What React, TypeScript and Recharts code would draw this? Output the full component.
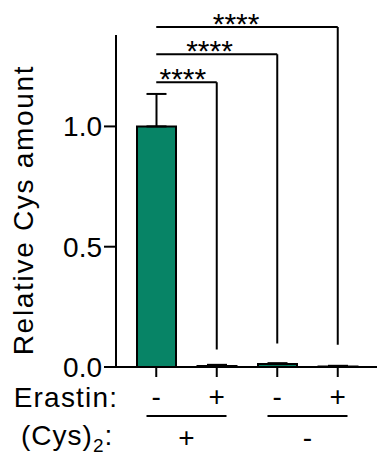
import React from 'react';
import { BarChart, Bar, XAxis, YAxis, ErrorBar, ReferenceLine } from 'recharts';

const ids = ['c1', 'c2', 'c3', 'c4'];
const erastin = ['-', '+', '-', '+'];
const cysGroups = ['+', '-'];
const values = [1.0, 0.004, 0.012, 0.002];
const errors = [0.135, 0.005, 0.004, 0.003];
const yTicks = [0, 0.5, 1.0];
const bracketTo = [1, 2, 3];
const bracketY = [1.184, 1.3, 1.413];
const bracketEnd = [0.073, 0.098, 0.093];
const sigLabels = ['****', '****', '****'];

const FONT = 'Liberation Sans, Arial, Helvetica, sans-serif';
const GREEN = '#078466';

const data = ids.map((id, i) => ({ id, value: values[i], err: [0, errors[i]] }));

const XTick = (props: any) => {
  const { x, y, payload, index } = props;
  const i = typeof index === 'number' ? index : ids.indexOf(payload.value);
  const half = payload && typeof payload.offset === 'number' && payload.offset > 0 ? payload.offset : 30.25;
  const band = half * 2;
  const els: any[] = [];
  els.push(
    <text key="e" x={x} y={y + 29} textAnchor="middle" fontSize={28} fontFamily={FONT} fill="#000">
      {erastin[i]}
    </text>
  );
  if (i % 2 === 0) {
    const mid = x + band / 2;
    els.push(<line key="u" x1={mid - 40} x2={mid + 40} y1={y + 39} y2={y + 39} stroke="#000" strokeWidth={2} />);
    els.push(
      <text key="g" x={mid} y={y + 70} textAnchor="middle" fontSize={28} fontFamily={FONT} fill="#000">
        {cysGroups[i / 2]}
      </text>
    );
  }
  if (i === 0) {
    els.push(
      <text key="l1" x={x - 38} y={y + 30} textAnchor="end" fontSize={28} letterSpacing={1.2} fontFamily={FONT} fill="#000">
        Erastin:
      </text>
    );
    els.push(
      <text key="l2" x={x - 43} y={y + 68} textAnchor="end" fontSize={28} letterSpacing={1} fontFamily={FONT} fill="#000">
        (Cys)
        <tspan fontSize={19} dy={7}>2</tspan>
        <tspan dy={-7}>:</tspan>
      </text>
    );
  }
  return <g>{els}</g>;
};

const YLabel = (props: any) => {
  const vb = props.viewBox || { x: 0, y: 35, width: 116, height: 332 };
  const cx = vb.x + 33;
  const cy = vb.y + vb.height / 2 + 9;
  return (
    <text
      x={cx}
      y={cy}
      transform={`rotate(-90, ${cx}, ${cy})`}
      textAnchor="middle"
      fontSize={28}
      letterSpacing={1.7}
      fontFamily={FONT}
      fill="#000"
    >
      Relative Cys amount
    </text>
  );
};

const StarLabel = (props: any) => {
  const vb = props.viewBox || { x: 0, y: 0, width: 0, height: 0 };
  return (
    <text
      x={vb.x + vb.width * 0.44}
      y={vb.y + 7}
      textAnchor="middle"
      fontSize={30}
      fontFamily={FONT}
      fill="#000"
    >
      {props.text}
    </text>
  );
};

export default function App() {
  return (
    <div style={{ position: 'absolute', left: 0, top: 0, width: 377, height: 459, background: '#fff' }}>
      <BarChart
        width={377}
        height={459}
        data={data}
        margin={{ top: 35, right: 0, left: 0, bottom: 0 }}
        barCategoryGap={0}
      >
        <XAxis
          dataKey="id"
          height={92}
          interval={0}
          padding={{ left: 10, right: 9 }}
          axisLine={{ stroke: '#000', strokeWidth: 2 }}
          tickLine={{ stroke: '#000', strokeWidth: 2 }}
          tickSize={10}
          tickMargin={0}
          tick={<XTick />}
        />
        <YAxis
          width={116}
          domain={[0, 1.38]}
          ticks={yTicks}
          allowDataOverflow
          tickFormatter={(v: number) => v.toFixed(1)}
          axisLine={{ stroke: '#000', strokeWidth: 2 }}
          tickLine={{ stroke: '#000', strokeWidth: 2 }}
          tickSize={12}
          tickMargin={2}
          tick={{ fontSize: 28, fill: '#000', fontFamily: FONT }}
          label={<YLabel />}
        />
        <Bar dataKey="value" fill={GREEN} stroke="#000" strokeWidth={2} barSize={39} isAnimationActive={false}>
          <ErrorBar dataKey="err" direction="y" width={10} stroke="#000" strokeWidth={2} isAnimationActive={false} />
        </Bar>
        {bracketTo.map((t, k) => (
          <ReferenceLine
            key={`h${k}`}
            segment={[
              { x: ids[0], y: bracketY[k] },
              { x: ids[t], y: bracketY[k] },
            ]}
            stroke="#000"
            strokeWidth={2}
            ifOverflow="visible"
            label={<StarLabel text={sigLabels[k]} />}
          />
        ))}
        {bracketTo.map((t, k) => (
          <ReferenceLine
            key={`v${k}`}
            segment={[
              { x: ids[t], y: bracketY[k] },
              { x: ids[t], y: bracketEnd[k] },
            ]}
            stroke="#000"
            strokeWidth={2}
            ifOverflow="visible"
          />
        ))}
      </BarChart>
    </div>
  );
}
